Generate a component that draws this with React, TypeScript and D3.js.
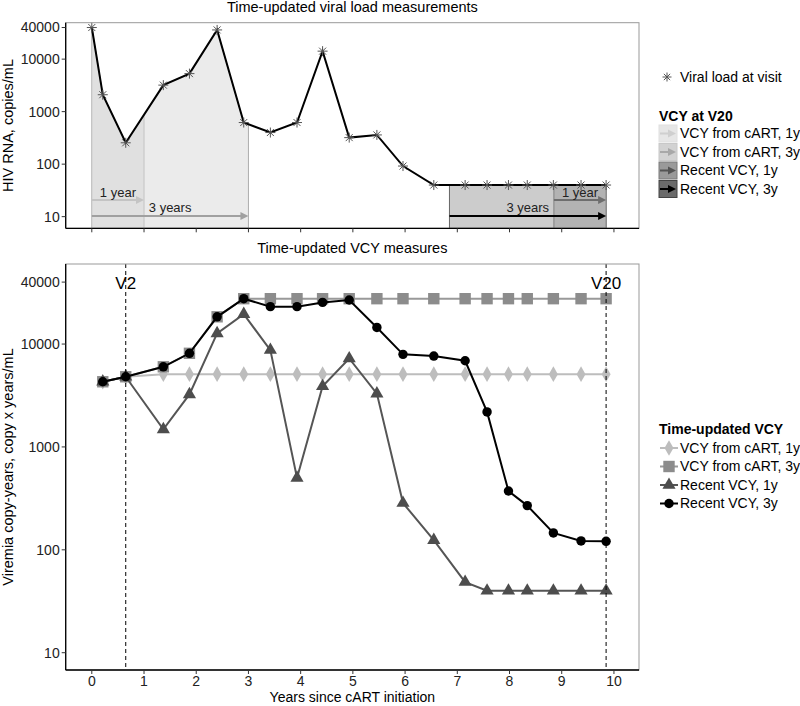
import React from "react";
import * as d3 from "d3";

// ---------- DATA ----------
const vlTimes = [0, 0.21, 0.65, 1.37, 1.87, 2.4, 2.91, 3.42, 3.93, 4.42, 4.93, 5.46, 5.96, 6.55, 7.15, 7.57, 7.98, 8.34, 8.84, 9.37, 9.85];
const vlValues = [40000, 2100, 255, 3200, 5300, 36000, 620, 400, 620, 14200, 320, 360, 92, 40, 40, 40, 40, 40, 40, 40, 40];

const visitTimes = [0.21, 0.65, 1.37, 1.87, 2.4, 2.91, 3.42, 3.93, 4.42, 4.93, 5.46, 5.96, 6.55, 7.15, 7.57, 7.98, 8.34, 8.84, 9.37, 9.85];
const vcyCart1y = [4300, 4810, 5100, 5100, 5100, 5100, 5100, 5100, 5100, 5100, 5100, 5100, 5100, 5100, 5100, 5100, 5100, 5100, 5100, 5100];
const vcyCart3y = [4300, 4810, 6010, 8130, 18400, 27600, 27600, 27600, 27600, 27600, 27600, 27600, 27600, 27600, 27600, 27600, 27600, 27600, 27600, 27600];
const recent1y = [4300, 4810, 1480, 3240, 12700, 19500, 8740, 500, 3890, 7240, 3300, 285, 124, 48.6, 40, 40, 40, 40, 40, 40];
const recent3y = [4300, 4810, 6010, 8130, 18400, 27600, 23100, 23100, 25400, 26800, 14500, 7940, 7640, 6880, 2190, 373, 269, 146, 122, 121];

const xTicks = [0, 1, 2, 3, 4, 5, 6, 7, 8, 9, 10];
const yTicksTop = [10, 100, 1000, 10000, 40000];
const yTicksBottom = [10, 100, 1000, 10000, 40000];

const v2Time = 0.65;
const v20Time = 9.85;

const topLegendLabels = ["VCY from cART, 1y", "VCY from cART, 3y", "Recent VCY, 1y", "Recent VCY, 3y"];
const bottomLegendLabels = ["VCY from cART, 1y", "VCY from cART, 3y", "Recent VCY, 1y", "Recent VCY, 3y"];

// ---------- LAYOUT ----------
const W = 800, H = 706;
const PL = 65.7, PR = 639;
const T1 = 22.7, B1 = 228.3;
const T2 = 264, B2 = 670;
const FONT = "Liberation Sans, Arial, sans-serif";

const x = d3.scaleLinear().domain([-0.5, 10.48]).range([PL, PR]);
const yTop = d3.scaleLog().domain([Math.pow(10, 0.778), Math.pow(10, 4.694)]).range([B1, T1]);
const yBot = d3.scaleLog().domain([Math.pow(10, 0.832), Math.pow(10, 4.778)]).range([B2, T2]);

function interpLog(t: number) {
  for (let i = 0; i < vlTimes.length - 1; i++) {
    if (t >= vlTimes[i] && t <= vlTimes[i + 1]) {
      const f = (t - vlTimes[i]) / (vlTimes[i + 1] - vlTimes[i]);
      const l = Math.log10(vlValues[i]) + f * (Math.log10(vlValues[i + 1]) - Math.log10(vlValues[i]));
      return Math.pow(10, l);
    }
  }
  return vlValues[vlValues.length - 1];
}

function areaPath(t0: number, t1: number) {
  const pts: [number, number][] = [[t0, interpLog(t0)]];
  vlTimes.forEach((t, i) => { if (t > t0 && t < t1) pts.push([t, vlValues[i]]); });
  pts.push([t1, interpLog(t1)]);
  const gen = d3.area<[number, number]>().x(d => x(d[0])).y0(B1).y1(d => yTop(d[1]));
  return gen(pts) || "";
}

const Star = ({ cx, cy, r = 5, color = "#555" }: any) => (
  <g stroke={color} strokeWidth={1}>
    <line x1={cx - r} y1={cy} x2={cx + r} y2={cy} />
    <line x1={cx} y1={cy - r} x2={cx} y2={cy + r} />
    <line x1={cx - r * 0.7} y1={cy - r * 0.7} x2={cx + r * 0.7} y2={cy + r * 0.7} />
    <line x1={cx - r * 0.7} y1={cy + r * 0.7} x2={cx + r * 0.7} y2={cy - r * 0.7} />
  </g>
);

const Arrow = ({ x1, x2, y, color }: any) => (
  <g>
    <line x1={x1} y1={y} x2={x2 - 6} y2={y} stroke={color} strokeWidth={2} />
    <path d={`M${x2},${y} L${x2 - 8},${y - 4} L${x2 - 8},${y + 4} Z`} fill={color} />
  </g>
);

const series = [
  { vals: vcyCart1y, color: "#bdbdbd", lineColor: "#bdbdbd", sym: d3.symbolDiamond, size: 70 },
  { vals: vcyCart3y, color: "#8c8c8c", lineColor: "#999999", sym: d3.symbolSquare, size: 130 },
  { vals: recent1y, color: "#4d4d4d", lineColor: "#555555", sym: d3.symbolTriangle, size: 75 },
  { vals: recent3y, color: "#000000", lineColor: "#000000", sym: d3.symbolCircle, size: 70 },
];

export default function App() {
  const vlLine = d3.line<number>().x((_, i) => x(vlTimes[i])).y(d => yTop(d))(vlValues) || "";
  const axisColor = "#222";
  const tickFont = 14;

  const topAreas = [
    { t0: 0, t1: 3, fill: "#ebebeb", stroke: "#adadad" },
    { t0: 0, t1: 1, fill: "#e0e0e0", stroke: "#c4c4c4" },
    { t0: v20Time - 3, t1: v20Time, fill: "#cccccc", stroke: "#666666" },
    { t0: v20Time - 1, t1: v20Time, fill: "#b3b3b3", stroke: "#808080" },
  ];

  const legFills = ["#e6e6e6", "#d2d2d2", "#9a9a9a", "#6a6a6a"];
  const legStrokes = ["#e0e0e0", "#c8c8c8", "#7a7a7a", "#444444"];
  const legArrows = ["#cfcfcf", "#a8a8a8", "#555555", "#000000"];

  return (
    <svg width={W} height={H} style={{ position: "absolute", left: 0, top: 0, background: "#fff" }} fontFamily={FONT}>
      {/* ===== TOP PANEL ===== */}
      <text x={(PL + PR) / 2} y={12} textAnchor="middle" fontSize={14.5} fill="#000">Time-updated viral load measurements</text>
      {topAreas.map((a, i) => (
        <path key={i} d={areaPath(a.t0, a.t1)} fill={a.fill} stroke={a.stroke} strokeWidth={1} />
      ))}
      {/* arrows */}
      <Arrow x1={x(0)} x2={x(1)} y={200} color="#c4c4c4" />
      <Arrow x1={x(0)} x2={x(3)} y={216} color="#a0a0a0" />
      <Arrow x1={x(v20Time - 1)} x2={x(v20Time)} y={200} color="#6e6e6e" />
      <Arrow x1={x(v20Time - 3)} x2={x(v20Time)} y={216} color="#000" />
      <text x={x(0.5)} y={197} textAnchor="middle" fontSize={13} fill="#222">1 year</text>
      <text x={x(1.5)} y={211.5} textAnchor="middle" fontSize={13} fill="#222">3 years</text>
      <text x={x(v20Time - 0.5)} y={197} textAnchor="middle" fontSize={13} fill="#222">1 year</text>
      <text x={x(v20Time - 1.5)} y={211.5} textAnchor="middle" fontSize={13} fill="#222">3 years</text>
      <path d={vlLine} fill="none" stroke="#000" strokeWidth={2} />
      {vlValues.map((v, i) => <Star key={i} cx={x(vlTimes[i])} cy={yTop(v)} />)}
      {/* frame */}
      <rect x={PL} y={T1} width={PR - PL} height={B1 - T1} fill="none" stroke="#999" strokeWidth={1} />
      <line x1={PL} y1={T1} x2={PL} y2={B1} stroke="#000" strokeWidth={1.3} />
      <line x1={PL} y1={B1} x2={PR} y2={B1} stroke="#000" strokeWidth={1.3} />
      {yTicksTop.map(t => (
        <g key={t}>
          <line x1={PL - 4} x2={PL} y1={yTop(t)} y2={yTop(t)} stroke="#333" />
          <text x={PL - 6} y={yTop(t)} dy="0.35em" textAnchor="end" fontSize={tickFont} fill={axisColor}>{t}</text>
        </g>
      ))}
      {xTicks.map(t => (
        <line key={t} x1={x(t)} x2={x(t)} y1={B1} y2={B1 + 4} stroke="#333" />
      ))}
      <text transform={`translate(13,${(T1 + B1) / 2}) rotate(-90)`} textAnchor="middle" fontSize={14.5} fill="#000">HIV RNA, copies/mL</text>

      {/* top legend */}
      <Star cx={667} cy={77} r={4.5} />
      <text x={680} y={77} dy="0.35em" fontSize={14} fill="#000">Viral load at visit</text>
      <text x={659} y={116} dy="0.35em" fontSize={14} fontWeight="bold" fill="#000">VCY at V20</text>
      {topLegendLabels.map((l, i) => {
        const cy = 133.5 + i * 18.5;
        return (
          <g key={l}>
            <rect x={659} y={cy - 8.5} width={18} height={17} fill={legFills[i]} stroke={legStrokes[i]} strokeWidth={1} />
            <Arrow x1={660} x2={676} y={cy} color={legArrows[i]} />
            <text x={680} y={cy} dy="0.35em" fontSize={14} fill="#000">{l}</text>
          </g>
        );
      })}

      {/* ===== BOTTOM PANEL ===== */}
      <text x={(PL + PR) / 2} y={253} textAnchor="middle" fontSize={14.5} fill="#000">Time-updated VCY measures</text>
      {series.map((s, si) => {
        const ln = d3.line<number>().x((_, i) => x(visitTimes[i])).y(d => yBot(d))(s.vals) || "";
        const sym = d3.symbol().type(s.sym).size(s.size)() || "";
        return (
          <g key={si}>
            <path d={ln} fill="none" stroke={s.lineColor} strokeWidth={2} />
            {s.vals.map((v, i) => (
              <path key={i} d={sym} transform={`translate(${x(visitTimes[i])},${yBot(v)})`} fill={s.color} />
            ))}
          </g>
        );
      })}
      {[v2Time, v20Time].map(t => (
        <line key={t} x1={x(t)} x2={x(t)} y1={T2} y2={B2} stroke="#000" strokeWidth={1} strokeDasharray="4,3" />
      ))}
      <text x={x(v2Time)} y={289} textAnchor="middle" fontSize={17} fill="#000">V2</text>
      <text x={x(v20Time)} y={289} textAnchor="middle" fontSize={17} fill="#000">V20</text>
      <rect x={PL} y={T2} width={PR - PL} height={B2 - T2} fill="none" stroke="#999" strokeWidth={1} />
      <line x1={PL} y1={T2} x2={PL} y2={B2} stroke="#000" strokeWidth={1.3} />
      <line x1={PL} y1={B2} x2={PR} y2={B2} stroke="#000" strokeWidth={1.3} />
      {yTicksBottom.map(t => (
        <g key={t}>
          <line x1={PL - 4} x2={PL} y1={yBot(t)} y2={yBot(t)} stroke="#333" />
          <text x={PL - 6} y={yBot(t)} dy="0.35em" textAnchor="end" fontSize={tickFont} fill={axisColor}>{t}</text>
        </g>
      ))}
      {xTicks.map(t => (
        <g key={t}>
          <line x1={x(t)} x2={x(t)} y1={B2} y2={B2 + 4} stroke="#333" />
          <text x={x(t)} y={686} textAnchor="middle" fontSize={tickFont} fill={axisColor}>{t}</text>
        </g>
      ))}
      <text x={(PL + PR) / 2} y={702} textAnchor="middle" fontSize={14} fill="#000">Years since cART initiation</text>
      <text transform={`translate(13,${(T2 + B2) / 2}) rotate(-90)`} textAnchor="middle" fontSize={14.5} fill="#000">Viremia copy-years, copy x years/mL</text>

      {/* bottom legend */}
      <text x={659} y={429} dy="0.35em" fontSize={14} fontWeight="bold" fill="#000">Time-updated VCY</text>
      {bottomLegendLabels.map((l, i) => {
        const cy = 448 + i * 18.5;
        const s = series[i];
        const sym = d3.symbol().type(s.sym).size(s.size)() || "";
        return (
          <g key={l}>
            <line x1={660} x2={678} y1={cy} y2={cy} stroke={s.lineColor} strokeWidth={2} />
            <path d={sym} transform={`translate(669,${cy})`} fill={s.color} />
            <text x={680} y={cy} dy="0.35em" fontSize={14} fill="#000">{l}</text>
          </g>
        );
      })}
    </svg>
  );
}
